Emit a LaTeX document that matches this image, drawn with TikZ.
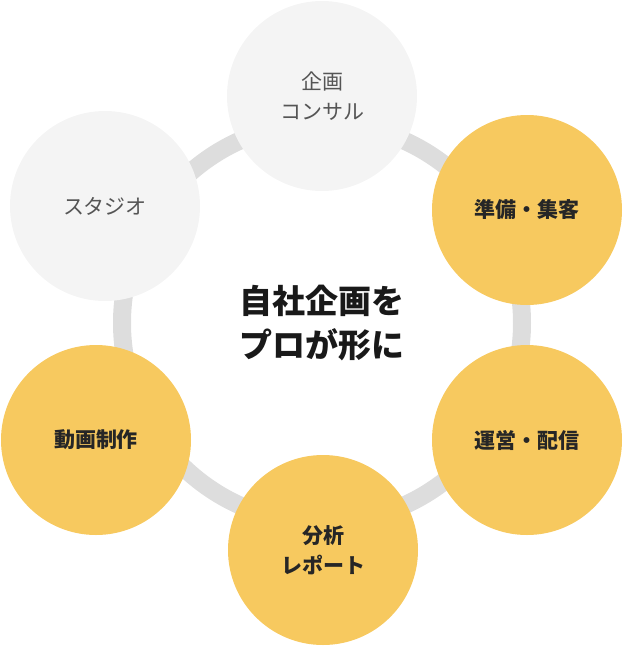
\documentclass[tikz,border=0pt]{standalone}
\usepackage{fontspec}
\setmainfont{Noto Sans CJK JP}
\begin{document}
\begin{tikzpicture}[x=1pt,y=-1pt]
\definecolor{ringc}{HTML}{DDDDDD}
\definecolor{greyc}{HTML}{F4F4F4}
\definecolor{yelc}{HTML}{F7C95F}
\definecolor{gtext}{HTML}{555555}
\tikzset{
  gcirc/.style={circle,fill=greyc,minimum size=190pt,inner sep=0pt,text=gtext,font=\fontsize{21}{30}\selectfont,align=center},
  ycirc/.style={circle,fill=yelc,minimum size=190pt,inner sep=0pt,text=black!85,font=\bfseries\fontsize{21}{30}\selectfont,align=center}
}
\useasboundingbox (0,0) rectangle (644,646);
\draw[ringc,line width=18pt] (322,323) circle[radius=200];
\node[gcirc] (a) at (322,96) {企画\\コンサル};
\node[ycirc] (b) at (527,210) {準備・集客};
\node[ycirc] (c) at (527,440) {運営・配信};
\node[ycirc] (d) at (323,550) {分析\\レポート};
\node[ycirc] (e) at (96,440) {動画制作};
\node[gcirc] (f) at (105,206) {スタジオ};
\node[font=\bfseries\fontsize{33}{44}\selectfont,align=center,text=black!90] (m) at (322,323) {自社企画を\\プロが形に};
\end{tikzpicture}
\end{document}
